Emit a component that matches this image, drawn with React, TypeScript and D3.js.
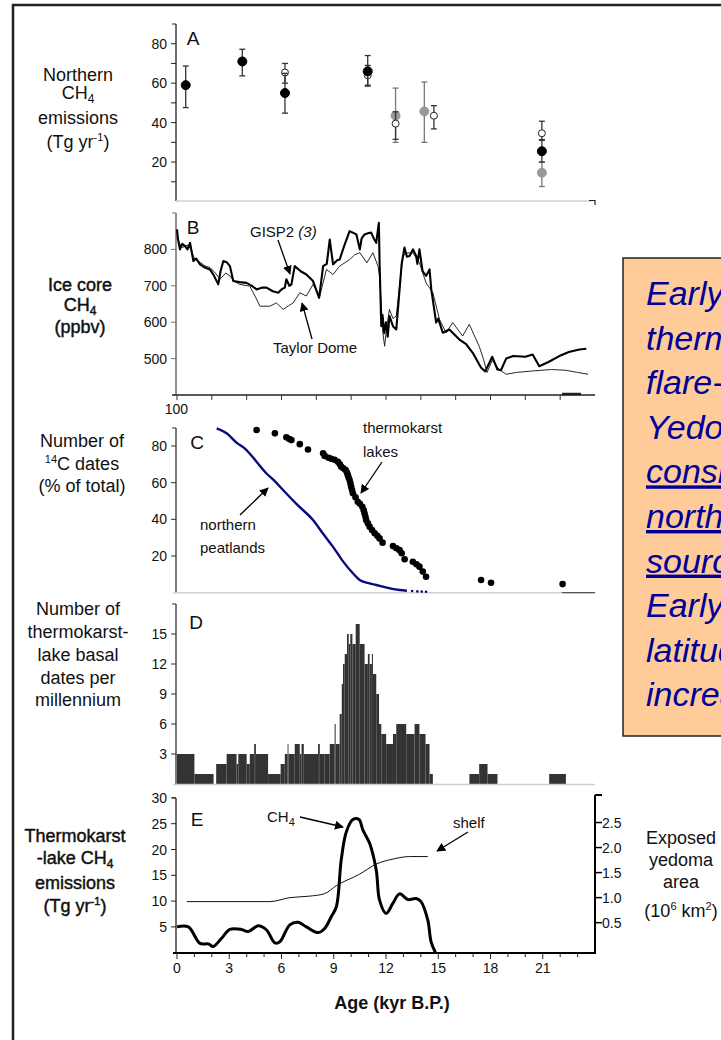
import React from 'react';
import * as d3 from 'd3';

const FONT = 'Liberation Sans, Arial, Helvetica, sans-serif';

// ---------- shared x (age, kyr BP) ----------
const ageTickLabels = [0, 3, 6, 9, 12, 15, 18, 21];
const ageMinorTicks = d3.range(0, 24, 1);
const ageBTicks = d3.range(0, 24, 2);

// ---------- Panel A: Northern CH4 emissions ----------
const aTicks = [20, 40, 60, 80];
const aMinor = [10, 30, 50, 70];
const filledAge = [0.5, 3.75, 6.2, 10.95, 20.95];
const filledVal = [59, 71, 55, 66, 25.5];
const filledLo = [47.6, 63.7, 44.8, 58.5, 20];
const filledHi = [68.7, 77.2, 65, 74, 31];
const openAge = [6.2, 10.95, 12.55, 14.75, 20.95];
const openVal = [65.4, 64, 39.5, 43.5, 34.6];
const openLo = [60, 59, 31.5, 36.8, 31.4];
const openHi = [70, 69, 45.5, 48.6, 40.7];
const greyAge = [12.55, 14.2, 20.95];
const greyVal = [43.5, 45.7, 14.6];
const greyLo = [30, 30, 7.6];
const greyHi = [57.5, 60.6, 20];

// ---------- Panel B: ice core CH4 ----------
const bTicks = [500, 600, 700, 800];
const gisp2: [number, number][] = [
  [0, 855], [0.05, 830], [0.17, 800], [0.3, 815], [0.46, 809], [0.6, 800], [0.75, 818], [0.94, 768],
  [1.1, 775], [1.32, 759], [1.6, 750], [1.89, 745], [2.1, 730], [2.37, 704], [2.5, 740], [2.66, 768],
  [2.85, 765], [3.04, 754], [3.23, 713], [3.6, 710], [3.99, 708], [4.3, 700], [4.57, 690], [4.9, 695],
  [5.14, 695], [5.5, 685], [5.81, 681], [6.0, 690], [6.19, 695], [6.28, 718], [6.45, 700], [6.57, 704],
  [6.76, 754], [7.1, 740], [7.43, 731], [7.81, 713], [8.16, 667], [8.39, 754], [8.6, 760], [8.77, 827],
  [8.96, 759], [9.2, 770], [9.34, 772], [9.6, 810], [9.91, 850], [10.1, 846], [10.3, 841], [10.5, 800],
  [10.6, 830], [10.77, 841], [11.0, 845], [11.15, 846], [11.3, 830], [11.44, 818], [11.55, 860],
  [11.59, 873], [11.63, 766], [11.73, 589], [11.8, 620], [11.9, 570], [12.0, 600], [12.1, 560],
  [12.2, 617], [12.4, 589], [12.59, 580], [12.78, 690], [12.9, 760], [13.06, 805], [13.2, 780],
  [13.35, 782], [13.55, 800], [13.73, 782], [13.8, 760], [13.92, 800], [14.1, 740], [14.3, 727],
  [14.5, 745], [14.6, 690], [14.88, 599], [15.0, 610], [15.26, 571], [15.64, 580], [16.2, 553],
  [16.6, 540], [16.98, 516], [17.46, 475], [17.7, 465], [18.1, 505], [18.4, 470], [18.6, 468],
  [18.9, 500], [19.3, 507], [20.0, 505], [20.42, 511], [20.8, 479], [21.3, 490], [21.95, 507],
  [22.5, 518], [23.1, 525], [23.5, 527],
];
const taylorDome: [number, number][] = [
  [0, 850], [0.1, 820], [0.3, 805], [0.6, 812], [0.8, 800], [1.0, 775], [1.3, 765], [1.6, 755],
  [1.9, 750], [2.2, 735], [2.47, 718], [2.8, 735], [3.04, 727], [3.3, 712], [3.6, 704], [4.18, 699],
  [4.5, 670], [4.76, 644], [5.33, 644], [5.71, 653], [6.1, 635], [6.4, 645], [6.67, 653], [7.05, 681],
  [7.43, 672], [7.81, 704], [8.2, 672], [8.58, 745], [8.96, 731], [9.34, 754], [9.91, 772], [10.2, 785],
  [10.5, 791], [10.9, 763], [11.25, 791], [11.54, 754], [11.63, 727], [11.82, 571], [11.92, 534],
  [12.05, 590], [12.2, 635], [12.4, 610], [12.59, 617], [12.97, 782], [13.2, 790], [13.54, 791],
  [13.92, 763], [14.3, 708], [14.69, 681], [15.07, 608], [15.45, 571], [15.83, 599], [16.4, 562],
  [16.78, 594], [17.35, 534], [17.6, 498], [17.8, 462], [18.1, 495], [18.5, 470], [18.9, 457],
  [19.5, 462], [20.4, 466], [21.5, 470], [22.3, 468], [23.0, 462], [23.6, 457],
];

// ---------- Panel C: 14C dates (% of total) ----------
const cTicks = [20, 40, 60, 80];
const peatlands: [number, number][] = [
  [2.28, 89.6], [2.85, 86.9], [3.4, 82], [3.99, 77.8], [4.6, 71], [5.14, 65], [5.6, 61], [6.09, 56],
  [6.9, 48], [7.81, 39.6], [8.4, 32], [8.96, 25], [9.5, 17.5], [10.1, 10.6], [10.49, 6.9], [11.0, 5.2],
  [11.44, 4.2], [12.1, 2.6], [12.78, 1.5], [13.2, 1.1],
];
const peatTail: [number, number][] = [[13.5, 0.9], [13.8, 0.7], [14.05, 0.6], [14.3, 0.5]];
const lakeDates: [number, number][] = [
  [4.57, 88.7], [5.62, 86.9], [6.28, 84.7], [6.45, 83.8], [6.57, 83.2], [7.05, 81], [7.52, 78.1],
  [8.39, 76], [8.48, 74.6], [8.7, 73.6], [8.86, 73], [9.05, 72.5], [9.24, 71.4], [9.35, 70],
  [9.43, 68.7], [9.55, 67.8], [9.68, 66.9], [9.76, 65.5], [9.81, 64.1], [9.86, 62.7], [9.91, 61.4],
  [9.96, 59.6], [10.0, 57.8], [10.05, 56], [10.1, 54.2], [10.25, 52], [10.38, 49.6], [10.5, 48.5],
  [10.64, 46.9], [10.72, 45], [10.77, 43.2], [10.82, 41.4], [10.86, 39.6], [10.96, 37.8], [11.06, 36],
  [11.2, 34.2], [11.35, 32.4], [11.5, 31], [11.63, 29.6], [11.8, 27.3], [12.4, 25.4], [12.6, 24.2],
  [12.78, 23.2], [12.9, 21.5], [13.07, 18.2], [13.54, 16.9], [13.75, 15.5], [13.92, 14.2],
  [14.11, 11.5], [14.3, 8.7], [17.46, 6.9], [18.03, 5.4], [22.14, 4.7],
];

// ---------- Panel D: thermokarst-lake basal dates per millennium ----------
const dTicks = [3, 6, 9, 12, 15];
const binStart = [0, 1.0, 2.25, 2.85, 3.42, 3.52, 4.0, 4.18, 4.43, 4.53, 5.23, 5.95, 6.19, 6.35, 6.4,
  6.76, 7.05, 7.15, 7.28, 7.81, 8.1, 8.2, 8.48, 8.77, 9.05, 9.11, 9.34, 9.46, 9.53, 9.63, 9.76, 9.86,
  9.95, 10.07, 10.26, 10.49, 10.77, 10.96, 11.06, 11.19, 11.25, 11.44, 11.6, 11.73, 12.01, 12.4, 12.59,
  13.16, 13.64, 13.92, 14.27, 14.5, 16.79, 17.35, 17.83, 21.37];
const binEnd = [1.0, 2.1, 2.85, 3.42, 3.52, 4.0, 4.18, 4.43, 4.53, 5.23, 5.95, 6.19, 6.35, 6.4, 6.76,
  7.05, 7.15, 7.28, 7.81, 8.1, 8.2, 8.48, 8.77, 9.05, 9.11, 9.34, 9.46, 9.53, 9.63, 9.76, 9.86, 9.95,
  10.07, 10.26, 10.49, 10.77, 10.96, 11.06, 11.19, 11.25, 11.44, 11.6, 11.73, 12.01, 12.4, 12.59, 13.16,
  13.64, 13.92, 14.27, 14.5, 14.69, 17.35, 17.83, 18.4, 22.33];
const binCount = [3, 1, 2, 3, 2, 3, 2, 3, 4, 3, 1, 2, 3, 4, 3, 4, 3, 4, 3, 3, 4, 3, 3, 4, 6, 4, 7, 10,
  12, 13, 15, 14, 15, 14, 16, 14, 12, 13, 12, 13, 11, 9, 6, 5, 4, 5, 6, 5, 6, 5, 4, 1, 1, 2, 1, 1];

// ---------- Panel E: thermokarst-lake CH4 emissions ----------
const eTicks = [5, 10, 15, 20, 25, 30];
const rTicks = [0.5, 1.0, 1.5, 2.0, 2.5];
const lakeCH4: [number, number][] = [
  [0, 5.0], [0.65, 5.0], [1.32, 1.8], [1.8, 1.7], [2.08, 1.2], [2.56, 2.8], [3.04, 4.5], [3.7, 4.5],
  [4.09, 4.1], [4.66, 5.2], [5.14, 4.4], [5.62, 1.9], [5.9, 2.1], [6.48, 5.4], [6.95, 5.9], [7.43, 5.0],
  [8.1, 3.9], [8.48, 4.7], [8.86, 7.0], [9.15, 8.9], [9.43, 18], [9.72, 23.4], [10.1, 25.8], [10.45, 25.8],
  [10.67, 23.8], [11.06, 21.2], [11.44, 16], [11.63, 10.2], [12.01, 7.6], [12.4, 9.6], [12.78, 11.4],
  [13.26, 10.3], [13.73, 10.5], [14.01, 9.9], [14.4, 6.3], [14.59, 2.1], [14.84, 0],
];
const shelfArea: [number, number][] = [
  [0.56, 0.92], [5.33, 0.92], [6.48, 1.0], [7.62, 1.03], [8.48, 1.08], [9.15, 1.24], [10.49, 1.47],
  [11.44, 1.67], [12.4, 1.77], [13.35, 1.82], [14.4, 1.82],
];

// ---------- text box ----------
const boxLines = ['Early Holocene', 'thermokarst-lake', 'flare-up in', 'Yedoma region', 'considerable',
  'northern CH4', 'source', 'Early high-', 'latitude CH4', 'increase'];
const boxUnderlined = [false, false, false, false, true, true, true, false, false, false];

// ---------- scales ----------
const X = d3.scaleLinear().domain([0, 24]).range([177, 595]);
const yA = d3.scaleLinear().domain([0, 90]).range([201.5, 24]);
const yB = d3.scaleLinear().domain([400, 900]).range([395, 213]);
const yC = d3.scaleLinear().domain([0, 100]).range([592.7, 409.3]);
const yD = d3.scaleLinear().domain([0, 18]).range([784, 604]);
const yE = d3.scaleLinear().domain([0, 30]).range([952.7, 797.9]);
const yR = d3.scaleLinear().domain([-0.1, 3.05]).range([952.7, 795]);

const AX = 176;

function LeftAxis({ scale, ticks, minor = [], top, bottom, color = '#333', width = 1.3 }: any) {
  return (
    <g>
      <line x1={AX} x2={AX} y1={top} y2={bottom} stroke={color} strokeWidth={width} />
      <line x1={AX - 4} x2={AX} y1={top} y2={top} stroke={color} strokeWidth={1} />
      {ticks.map((t: number) => (
        <g key={t}>
          <line x1={AX - 5} x2={AX} y1={scale(t)} y2={scale(t)} stroke={color} strokeWidth={1} />
          <text x={AX - 9} y={scale(t) + 5} textAnchor="end" fontSize={14} fill="#111">{t}</text>
        </g>
      ))}
      {minor.map((t: number) => (
        <line key={'m' + t} x1={AX - 5} x2={AX} y1={scale(t)} y2={scale(t)} stroke={color} strokeWidth={1} />
      ))}
    </g>
  );
}

function ErrBars({ ages, vals, lo, hi, fill, stroke, barColor, r }: any) {
  return (
    <g>
      {ages.map((a: number, i: number) => (
        <g key={i}>
          <line x1={X(a)} x2={X(a)} y1={yA(lo[i])} y2={yA(hi[i])} stroke={barColor} strokeWidth={1.3} />
          <line x1={X(a) - 3} x2={X(a) + 3} y1={yA(lo[i])} y2={yA(lo[i])} stroke={barColor} strokeWidth={1.3} />
          <line x1={X(a) - 3} x2={X(a) + 3} y1={yA(hi[i])} y2={yA(hi[i])} stroke={barColor} strokeWidth={1.3} />
        </g>
      ))}
      {ages.map((a: number, i: number) => (
        <circle key={'c' + i} cx={X(a)} cy={yA(vals[i])} r={r} fill={fill} stroke={stroke} strokeWidth={1} />
      ))}
    </g>
  );
}

// text with a superscript: before + sup + after
function SupText({ before, sup, after }: any) {
  return (
    <>
      {before}
      <tspan fontSize={11} dy={-7}>{sup}</tspan>
      <tspan dy={7}>{after}</tspan>
    </>
  );
}

export default function App() {
  const lineB = d3.line<[number, number]>().x(d => X(d[0])).y(d => yB(d[1]));
  const lineC = d3.line<[number, number]>().x(d => X(d[0])).y(d => yC(d[1])).curve(d3.curveMonotoneX);
  const lineE = d3.line<[number, number]>().x(d => X(d[0])).y(d => yE(d[1])).curve(d3.curveCatmullRom.alpha(0.5));
  const lineR = d3.line<[number, number]>().x(d => X(d[0])).y(d => yR(d[1])).curve(d3.curveMonotoneX);

  const title = (cx: number, lines: { y: number; content: any }[], heavy = false) => (
    <g fontSize={18} textAnchor="middle" fill="#111" stroke={heavy ? '#111' : 'none'} strokeWidth={heavy ? 0.45 : 0}>
      {lines.map((l, i) => (
        <text key={i} x={cx} y={l.y}>{l.content}</text>
      ))}
    </g>
  );
  const ch4 = (pre = '') => <>{pre}CH<tspan fontSize={12} dy={4}>4</tspan></>;

  return (
    <svg width={721} height={1040} style={{ position: 'absolute', left: 0, top: 0, background: '#fff' }}
      fontFamily={FONT}>
      <defs>
        <marker id="ah" viewBox="0 0 10 10" refX="9" refY="5" markerWidth="9" markerHeight="9"
          markerUnits="userSpaceOnUse" orient="auto">
          <path d="M0,0 L10,5 L0,10 z" fill="#000" />
        </marker>
      </defs>
      <rect x={0} y={0} width={721} height={1040} fill="#fff" />
      {/* outer frame */}
      <rect x={13} y={5} width={900} height={1200} fill="none" stroke="#222" strokeWidth={2.5} />

      {/* ---------------- Panel A ---------------- */}
      <LeftAxis scale={yA} ticks={aTicks} minor={aMinor} top={24} bottom={201} color="#222" />
      <line x1={AX} x2={592} y1={201} y2={201} stroke="#d0d0d0" strokeWidth={1.5} />
      <path d="M589,200.5 H595 V205" fill="none" stroke="#222" strokeWidth={1.2} />
      <text x={193} y={45} fontSize={19} textAnchor="middle" fill="#111">A</text>
      <ErrBars ages={greyAge} vals={greyVal} lo={greyLo} hi={greyHi} fill="#999" stroke="#999" barColor="#777" r={4.5} />
      <ErrBars ages={openAge} vals={openVal} lo={openLo} hi={openHi} fill="#fff" stroke="#222" barColor="#333" r={3.5} />
      <ErrBars ages={filledAge} vals={filledVal} lo={filledLo} hi={filledHi} fill="#000" stroke="#000" barColor="#333" r={4.5} />
      {title(78, [
        { y: 81, content: 'Northern' },
        { y: 99, content: ch4() },
        { y: 124, content: 'emissions' },
        { y: 148, content: <SupText before="(Tg yr" sup="-1" after=")" /> },
      ])}

      {/* ---------------- Panel B ---------------- */}
      <LeftAxis scale={yB} ticks={bTicks} top={213} bottom={395} color="#777" width={1.6} />
      <line x1={172} x2={595} y1={395} y2={395} stroke="#222" strokeWidth={1.3} />
      {ageBTicks.map(t => (
        <line key={t} x1={X(t)} x2={X(t)} y1={395} y2={400} stroke="#333" strokeWidth={1} />
      ))}
      <line x1={562} x2={581} y1={394} y2={394} stroke="#222" strokeWidth={2.5} />
      <path d={lineB(taylorDome) || ''} fill="none" stroke="#111" strokeWidth={0.9} />
      <path d={lineB(gisp2) || ''} fill="none" stroke="#000" strokeWidth={2.1} strokeLinejoin="round" />
      <text x={193} y={234} fontSize={19} textAnchor="middle" fill="#111">B</text>
      <text x={250} y={237} fontSize={15} fill="#111">GISP2 <tspan fontStyle="italic">(3)</tspan></text>
      <line x1={278} y1={240} x2={290} y2={274} stroke="#000" strokeWidth={1.3} markerEnd="url(#ah)" />
      <text x={273} y={353} fontSize={15} fill="#111">Taylor Dome</text>
      <line x1={312} y1={339} x2={302} y2={303} stroke="#000" strokeWidth={1.3} markerEnd="url(#ah)" />
      {title(80, [
        { y: 291, content: 'Ice core' },
        { y: 311, content: ch4() },
        { y: 333, content: '(ppbv)' },
      ], true)}

      {/* ---------------- Panel C ---------------- */}
      <LeftAxis scale={yC} ticks={cTicks} top={428} bottom={592.7} color="#333" />
      <text x={188} y={yC(100) + 5} textAnchor="end" fontSize={14} fill="#111">100</text>
      <line x1={173} x2={595} y1={592.7} y2={592.7} stroke="#d0d0d0" strokeWidth={1.5} />
      <line x1={562} x2={595} y1={592.7} y2={592.7} stroke="#555" strokeWidth={1.3} />
      <path d={lineC(peatlands) || ''} fill="none" stroke="#0a0a80" strokeWidth={2.4} />
      {peatTail.map((d, i) => (
        <circle key={i} cx={X(d[0])} cy={yC(d[1])} r={1.3} fill="#0a0a80" />
      ))}
      {lakeDates.map((d, i) => (
        <circle key={i} cx={X(d[0])} cy={yC(d[1])} r={3.3} fill="#000" />
      ))}
      <text x={197} y={449} fontSize={19} textAnchor="middle" fill="#111">C</text>
      <text x={363} y={433} fontSize={15} fill="#111">thermokarst</text>
      <text x={363} y={457} fontSize={15} fill="#111">lakes</text>
      <line x1={382} y1={462} x2={361} y2={493} stroke="#000" strokeWidth={1.3} markerEnd="url(#ah)" />
      <text x={200} y={530} fontSize={15} fill="#111">northern</text>
      <text x={200} y={553} fontSize={15} fill="#111">peatlands</text>
      <line x1={240} y1={515} x2={268} y2={488} stroke="#000" strokeWidth={1.3} markerEnd="url(#ah)" />
      {title(82, [
        { y: 447, content: 'Number of' },
        { y: 470, content: <SupText before="" sup="14" after="C dates" /> },
        { y: 492, content: '(% of total)' },
      ])}

      {/* ---------------- Panel D ---------------- */}
      <LeftAxis scale={yD} ticks={dTicks} top={604} bottom={784} color="#333" />
      {binCount.map((c, i) => (
        <rect key={i} x={X(binStart[i])} y={yD(c)} width={X(binEnd[i]) - X(binStart[i])}
          height={yD(0) - yD(c)} fill="#333" />
      ))}
      <line x1={173} x2={595} y1={784.5} y2={784.5} stroke="#d0d0d0" strokeWidth={1.5} />
      <text x={196} y={629} fontSize={19} textAnchor="middle" fill="#111">D</text>
      {title(78, [
        { y: 615, content: 'Number of' },
        { y: 638, content: 'thermokarst-' },
        { y: 661, content: 'lake basal' },
        { y: 684, content: 'dates per' },
        { y: 706, content: 'millennium' },
      ])}

      {/* ---------------- Panel E ---------------- */}
      <LeftAxis scale={yE} ticks={eTicks} top={797.9} bottom={952.7} color="#222" />
      <line x1={595} x2={595} y1={795} y2={953} stroke="#000" strokeWidth={2} />
      <line x1={595} x2={602} y1={795} y2={795} stroke="#000" strokeWidth={2} />
      {rTicks.map(t => (
        <g key={t}>
          <line x1={595} x2={602} y1={yR(t)} y2={yR(t)} stroke="#000" strokeWidth={1.5} />
          <text x={602} y={yR(t) + 5} fontSize={14} fill="#111">{t.toFixed(1)}</text>
        </g>
      ))}
      <line x1={173} x2={596} y1={953} y2={953} stroke="#000" strokeWidth={2} />
      {ageMinorTicks.map(t => (
        <line key={t} x1={X(t)} x2={X(t)} y1={953} y2={t % 3 === 0 ? 959 : 957} stroke="#222" strokeWidth={1} />
      ))}
      {ageTickLabels.map(t => (
        <text key={t} x={X(t)} y={973} fontSize={14} textAnchor="middle" fill="#111">{t}</text>
      ))}
      <path d={lineR(shelfArea) || ''} fill="none" stroke="#111" strokeWidth={1} />
      <path d={lineE(lakeCH4) || ''} fill="none" stroke="#000" strokeWidth={3} strokeLinejoin="round" />
      <text x={197} y={826} fontSize={19} textAnchor="middle" fill="#111">E</text>
      <text x={267} y={822} fontSize={15} fill="#111">CH<tspan fontSize={11} dy={4}>4</tspan></text>
      <line x1={300} y1={817} x2={343} y2={827} stroke="#000" strokeWidth={1.3} markerEnd="url(#ah)" />
      <text x={453} y={828} fontSize={15} fill="#111">shelf</text>
      <line x1={468} y1={832} x2={437} y2={851} stroke="#000" strokeWidth={1.3} markerEnd="url(#ah)" />
      {title(75, [
        { y: 842, content: 'Thermokarst' },
        { y: 864, content: ch4('-lake ') },
        { y: 889, content: 'emissions' },
        { y: 912, content: <SupText before="(Tg yr" sup="-1" after=")" /> },
      ], true)}
      {title(681, [
        { y: 844, content: 'Exposed' },
        { y: 866, content: 'yedoma' },
        { y: 888, content: 'area' },
        { y: 917, content: <>(10<tspan fontSize={11} dy={-7}>6</tspan><tspan dy={7}> km</tspan><tspan fontSize={11} dy={-7}>2</tspan><tspan dy={7}>)</tspan></> },
      ])}
      <text x={392} y={1009} fontSize={18} fontWeight="bold" textAnchor="middle" fill="#111">Age (kyr B.P.)</text>

      {/* ---------------- text box ---------------- */}
      <rect x={623} y={258} width={200} height={478} fill="#FFCC99" stroke="#222" strokeWidth={1.5} />
      {boxLines.map((l, i) => (
        <text key={i} x={646} y={305 + i * 44.6} fontSize={34} fontStyle="italic" fill="#000099"
          textDecoration={boxUnderlined[i] ? 'underline' : undefined}>{l}</text>
      ))}
    </svg>
  );
}
